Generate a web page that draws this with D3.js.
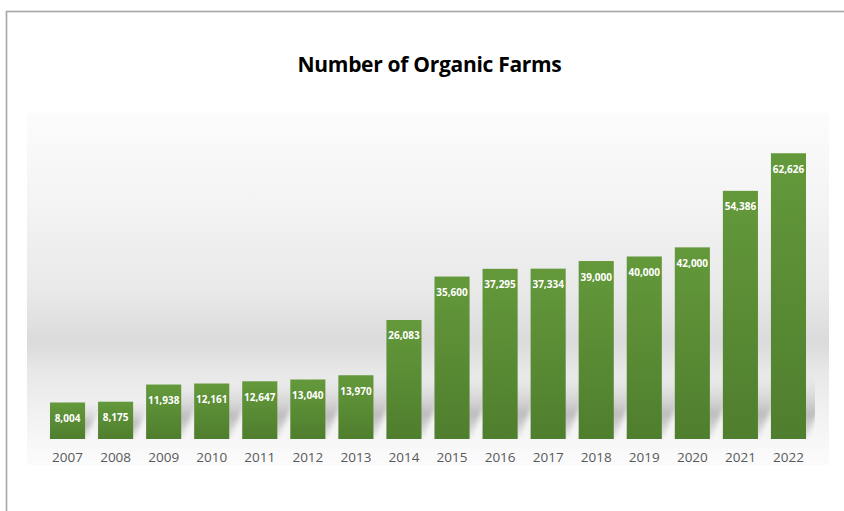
<!DOCTYPE html>
<html>
<head>
<meta charset="utf-8">
<script src="https://cdn.jsdelivr.net/npm/d3@7"></script>
<style>
  html, body { margin: 0; padding: 0; background: #fff; }
  svg { display: block; }
</style>
</head>
<body>
<svg id="chart" width="844" height="511"></svg>
<script>
// Number of organic farms per year
const years = ["2007","2008","2009","2010","2011","2012","2013","2014","2015","2016","2017","2018","2019","2020","2021","2022"];
const farms = [8004, 8175, 11938, 12161, 12647, 13040, 13970, 26083, 35600, 37295, 37334, 39000, 40000, 42000, 54386, 62626];
const titleText = "Number of Organic Farms";

const W = 844, H = 511;
const svg = d3.select("#chart");
const defs = svg.append("defs");

// outer chart frame
svg.append("rect")
  .attr("x", 6.5).attr("y", 11.5)
  .attr("width", W + 10).attr("height", H + 10)
  .attr("fill", "#fff")
  .attr("stroke", "#a6a6a6").attr("stroke-width", 1.6);

// plot-area backdrop
const bg = { x: 27, y: 113, w: 802, h: 352 };
const bgGrad = defs.append("linearGradient").attr("id", "bgGrad")
  .attr("x1", 0).attr("y1", 0).attr("x2", 0).attr("y2", 1);
[[0, "#fcfcfc"], [0.25, "#f4f4f4"], [0.5, "#e9e9e9"], [0.65, "#dbdbdb"], [0.73, "#e7e7e7"],
 [0.82, "#efefef"], [0.92, "#f6f6f6"], [1, "#fafafa"]]
  .forEach(([o, c]) => bgGrad.append("stop").attr("offset", o).attr("stop-color", c));
svg.append("rect")
  .attr("x", bg.x).attr("y", bg.y).attr("width", bg.w).attr("height", bg.h)
  .attr("fill", "url(#bgGrad)");

// floor strip under the bars
const floorGrad = defs.append("linearGradient").attr("id", "floorGrad")
  .attr("x1", 0).attr("y1", 0).attr("x2", 0).attr("y2", 1);
floorGrad.append("stop").attr("offset", 0).attr("stop-color", "#f7f7f7");
floorGrad.append("stop").attr("offset", 1).attr("stop-color", "#fbfbfb");

// scales
const x = d3.scaleBand().domain(years).range([43.5, 812.5]).paddingInner(0.27).paddingOuter(0.135);
const y = d3.scaleLinear().domain([0, 70000]).range([439, 119.6]);

svg.append("rect")
  .attr("x", bg.x).attr("y", y(0)).attr("width", bg.w).attr("height", bg.y + bg.h - y(0))
  .attr("fill", "url(#floorGrad)");

// perspective shadows cast by the bars
const blur = defs.append("filter").attr("id", "shadowBlur")
  .attr("x", "-50%").attr("y", "-50%").attr("width", "200%").attr("height", "200%");
blur.append("feGaussianBlur").attr("stdDeviation", 2.5);
const shGrad = defs.append("linearGradient").attr("id", "shGrad")
  .attr("x1", 0).attr("y1", 1).attr("x2", 0).attr("y2", 0);
shGrad.append("stop").attr("offset", 0).attr("stop-color", "#a0a0a0").attr("stop-opacity", 0.2);
shGrad.append("stop").attr("offset", 0.4).attr("stop-color", "#909090").attr("stop-opacity", 0.55);
shGrad.append("stop").attr("offset", 1).attr("stop-color", "#c0c0c0").attr("stop-opacity", 0);

const clipFloor = defs.append("clipPath").attr("id", "clipFloor");
clipFloor.append("rect").attr("x", bg.x).attr("y", bg.y).attr("width", bg.w - 14).attr("height", y(0) - bg.y);

svg.append("g").attr("clip-path", "url(#clipFloor)")
  .selectAll("path").data(years).join("path")
  .attr("fill", "url(#shGrad)")
  .attr("filter", "url(#shadowBlur)")
  .attr("d", (d, i) => {
    const x0 = x(d), x1 = x(d) + x.bandwidth();
    const h = Math.min(y(0) - y(farms[i]), 62);
    const dx = h * 0.45;
    const b = y(0);
    return `M${x0},${b}L${x1},${b}L${x1 + dx},${b - h}L${x0 + dx},${b - h}Z`;
  });

// bars
const barGrad = defs.append("linearGradient").attr("id", "barGrad")
  .attr("x1", 0).attr("y1", 0).attr("x2", 0).attr("y2", 1);
barGrad.append("stop").attr("offset", 0).attr("stop-color", "#64993b");
barGrad.append("stop").attr("offset", 1).attr("stop-color", "#4f7e2e");

svg.append("g").selectAll("rect").data(years).join("rect")
  .attr("x", d => x(d))
  .attr("y", (d, i) => y(farms[i]))
  .attr("width", x.bandwidth())
  .attr("height", (d, i) => y(0) - y(farms[i]))
  .attr("fill", "url(#barGrad)");

// value labels inside the top of each bar
const fmt = d3.format(",");
svg.append("g").selectAll("text").data(years).join("text")
  .attr("x", d => x(d) + x.bandwidth() / 2)
  .attr("y", (d, i) => y(farms[i]) + 19.5)
  .attr("text-anchor", "middle")
  .attr("font-family", "'Open Sans', sans-serif")
  .attr("font-weight", 700)
  .attr("font-size", "10px")
  .attr("fill", "#ffffff")
  .text((d, i) => fmt(farms[i]));

// category axis (labels only)
const xAxis = svg.append("g")
  .attr("transform", `translate(0,${y(0)})`)
  .call(d3.axisBottom(x).tickSize(0).tickPadding(13));
xAxis.select(".domain").remove();
xAxis.selectAll("text")
  .attr("font-family", "'Open Sans', sans-serif")
  .attr("font-size", "13.5px")
  .attr("fill", "#595959");

// title
svg.append("text")
  .attr("x", 429.5).attr("y", 72)
  .attr("text-anchor", "middle")
  .attr("font-family", "'Open Sans', sans-serif")
  .attr("font-weight", 700)
  .attr("font-size", "21px")
  .attr("letter-spacing", "-0.3px")
  .attr("fill", "#000")
  .text(titleText);
</script>
</body>
</html>
